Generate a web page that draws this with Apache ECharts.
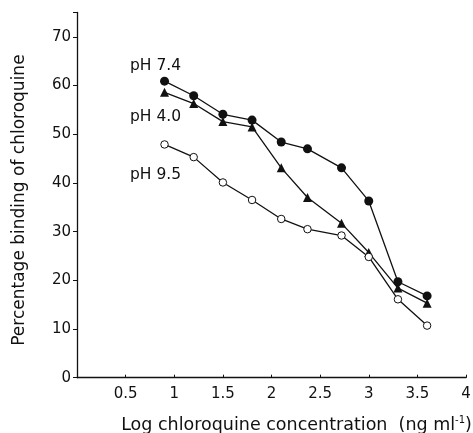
<!DOCTYPE html>
<html><head><meta charset="utf-8">
<script src="https://cdn.jsdelivr.net/npm/echarts@6/dist/echarts.min.js"></script>
<style>html,body{margin:0;padding:0;background:#fff}#c{width:473px;height:433px}</style>
</head><body><div id="c"></div>
<script>
const logConc = [0.9, 1.2, 1.5, 1.8, 2.1, 2.37, 2.72, 3.0, 3.3, 3.6];
const ph74 = [60.9, 57.9, 54.1, 52.9, 48.4, 47.0, 43.1, 36.3, 19.7, 16.8];
const ph40 = [58.6, 56.3, 52.6, 51.5, 43.1, 37.0, 31.7, 25.7, 18.4, 15.3];
const ph95 = [47.9, 45.3, 40.1, 36.5, 32.6, 30.5, 29.2, 24.8, 16.1, 10.7];
const seriesNames = ['pH 7.4', 'pH 4.0', 'pH 9.5'];

const font = 'DejaVu Sans';
const chart = echarts.init(document.getElementById('c'), null, {renderer: 'canvas'});
const pair = ys => logConc.map((x, i) => [x, ys[i]]);
const lineStyle = {color: '#111', width: 1.3};
chart.setOption({
  animation: false,
  backgroundColor: '#fff',
  grid: {left: 77, right: 7, top: 12.5, bottom: 55.3, containLabel: false, outerBoundsMode: 'none'},
  xAxis: {
    type: 'value', min: 0, max: 4, interval: 0.5,
    axisLine: {lineStyle: {color: '#111', width: 1.3}},
    axisTick: {inside: true, length: 3, lineStyle: {color: '#111'}},
    splitLine: {show: false},
    axisLabel: {color: '#111', fontFamily: font, fontSize: 15, margin: 9,
      formatter: v => v === 0 ? '' : String(v)},
    name: 'Log chloroquine concentration  (ng ml{sup|-1})',
    nameLocation: 'middle', nameGap: 38,
    nameTextStyle: {color: '#111', fontFamily: font, fontSize: 17.5, padding: [0, 0, 0, 50],
      rich: {sup: {fontSize: 10, verticalAlign: 'top', padding: [0, 0, 9, 0], fontFamily: font, color: '#111'}}}
  },
  yAxis: {
    type: 'value', min: 0, max: 75, interval: 10,
    axisLine: {show: true, lineStyle: {color: '#111', width: 1.3}},
    axisTick: {show: true, length: 4, lineStyle: {color: '#111'}},
    splitLine: {show: false},
    axisLabel: {color: '#111', fontFamily: font, fontSize: 15, margin: 6,
      formatter: v => (v % 10 === 0 ? String(v) : '')},
    name: 'Percentage binding of chloroquine',
    nameLocation: 'middle', nameGap: 49, nameRotate: 90,
    nameTextStyle: {color: '#111', fontFamily: font, fontSize: 17, padding: [0, 10, 0, 0]}
  },
  series: [
    {name: seriesNames[0], type: 'line', data: pair(ph74), symbol: 'circle', symbolSize: 9,
     itemStyle: {color: '#111'}, lineStyle},
    {name: seriesNames[1], type: 'line', data: pair(ph40), symbol: 'triangle', symbolSize: 9,
     itemStyle: {color: '#111'}, lineStyle},
    {name: seriesNames[2], type: 'line', data: pair(ph95), symbol: 'circle', symbolSize: 7.5,
     itemStyle: {color: '#fff', borderColor: '#111', borderWidth: 1}, lineStyle}
  ],
  graphic: [
    {type: 'text', left: 130, top: 58, style: {text: seriesNames[0], font: '15.5px ' + font, fill: '#111'}},
    {type: 'text', left: 130, top: 109, style: {text: seriesNames[1], font: '15.5px ' + font, fill: '#111'}},
    {type: 'text', left: 130, top: 167, style: {text: seriesNames[2], font: '15.5px ' + font, fill: '#111'}}
  ]
});
</script></body></html>
